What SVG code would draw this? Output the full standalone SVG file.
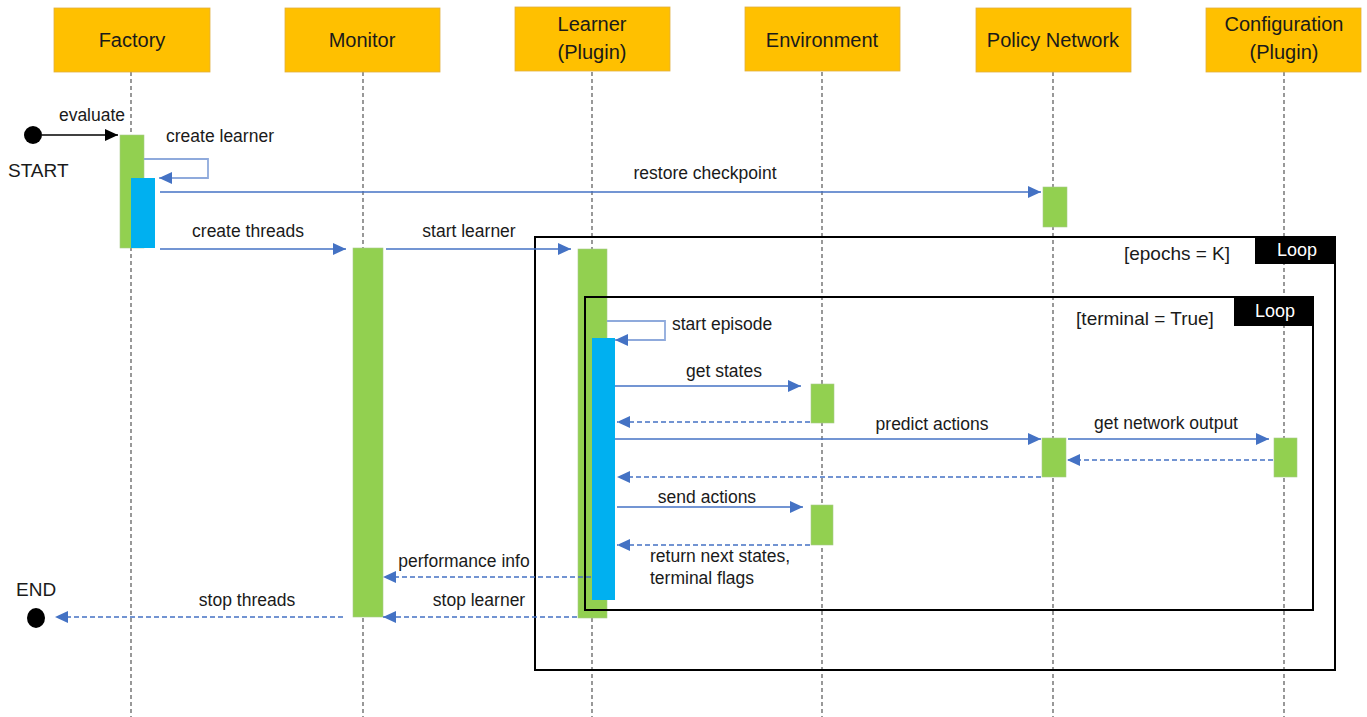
<svg xmlns="http://www.w3.org/2000/svg" width="1367" height="717" viewBox="0 0 1367 717">
<defs>
<style>
.hdr{fill:#FFC000;stroke:#E0B040;stroke-width:0.8}
.ht{font-family:"Liberation Sans",Arial,sans-serif;font-size:20px;fill:#1a1a1a;text-anchor:middle}
.lbl{font-family:"Liberation Sans",Arial,sans-serif;font-size:17.5px;fill:#1a1a1a}
.grd{font-size:19px}
.mid{text-anchor:middle}
.life{stroke:#555;stroke-width:1.2;stroke-dasharray:4 3;fill:none}
.g{fill:#92D050;stroke:#A9C98A;stroke-width:0.6}
.b{fill:#00B0F0}
.msg{stroke:#4472C4;stroke-width:1.5;fill:none;marker-end:url(#ah)}
.ret{stroke:#4472C4;stroke-width:1.5;fill:none;stroke-dasharray:5 3;marker-end:url(#ah)}
.self{stroke:#8FAADC;stroke-width:1.8;fill:none;marker-end:url(#ah)}
.frame{fill:none;stroke:#000;stroke-width:2}
.loopt{font-family:"Liberation Sans",Arial,sans-serif;font-size:18px;fill:#fff;text-anchor:middle}
</style>
<marker id="ah" markerUnits="userSpaceOnUse" markerWidth="14" markerHeight="12" refX="13" refY="6" orient="auto">
<path d="M0,0 L13,6 L0,12 Z" fill="#4472C4"/>
</marker>
<marker id="ahk" markerUnits="userSpaceOnUse" markerWidth="14" markerHeight="12" refX="13" refY="6" orient="auto">
<path d="M0,0 L13,6 L0,12 Z" fill="#000"/>
</marker>
</defs>
<rect width="1367" height="717" fill="#fff"/>

<g id="lifelines">
<line class="life" x1="131" y1="72" x2="131" y2="717"/>
<line class="life" x1="363" y1="72" x2="363" y2="717"/>
<line class="life" x1="592" y1="72" x2="592" y2="717"/>
<line class="life" x1="822" y1="72" x2="822" y2="717"/>
<line class="life" x1="1053" y1="72" x2="1053" y2="717"/>
<line class="life" x1="1284" y1="72" x2="1284" y2="717"/>
</g>

<g id="factory">
<rect class="hdr" x="54" y="8" width="156" height="64"/>
<text class="ht" x="132" y="47">Factory</text>
<rect class="g" x="120" y="135" width="24" height="113"/>
<rect class="b" x="131" y="178" width="24" height="70"/>
</g>
<g id="monitor">
<rect class="hdr" x="285" y="8" width="155" height="64"/>
<text class="ht" x="362" y="47">Monitor</text>
<rect class="g" x="353" y="248" width="30" height="369"/>
</g>
<g id="learner">
<rect class="hdr" x="515" y="7" width="155" height="64"/>
<text class="ht" x="592" y="31">Learner</text>
<text class="ht" x="592" y="59">(Plugin)</text>
<rect class="g" x="578" y="249" width="29" height="369"/>
<rect class="b" x="592" y="338" width="23" height="262"/>
</g>
<g id="environment">
<rect class="hdr" x="745" y="7" width="155" height="64"/>
<text class="ht" x="822" y="47">Environment</text>
<rect class="g" x="811" y="384" width="23" height="39"/>
<rect class="g" x="811" y="505" width="22" height="40"/>
</g>
<g id="policy-network">
<rect class="hdr" x="976" y="8" width="155" height="64"/>
<text class="ht" x="1053" y="47">Policy Network</text>
<rect class="g" x="1043" y="187" width="24" height="40"/>
<rect class="g" x="1042" y="438" width="24" height="39"/>
</g>
<g id="configuration">
<rect class="hdr" x="1206" y="8" width="155" height="64"/>
<text class="ht" x="1284" y="31">Configuration</text>
<text class="ht" x="1284" y="59">(Plugin)</text>
<rect class="g" x="1274" y="438" width="23" height="39"/>
</g>

<g id="start-end">
<circle cx="33" cy="135" r="9" fill="#000"/>
<text class="lbl" x="8" y="177" style="font-size:19px">START</text>
<ellipse cx="36" cy="618" rx="9" ry="10" fill="#000"/>
<text class="lbl" x="16" y="596" style="font-size:19px">END</text>
</g>

<g id="loops">
<rect class="frame" x="535" y="237" width="800" height="433"/>
<rect x="1255" y="237" width="80" height="27" fill="#000"/>
<text class="loopt" x="1297" y="256">Loop</text>
<text class="lbl grd mid" x="1177" y="260">[epochs = K]</text>
<rect class="frame" x="585" y="297" width="728" height="313"/>
<rect x="1234" y="297" width="80" height="29" fill="#000"/>
<text class="loopt" x="1275" y="317">Loop</text>
<text class="lbl grd mid" x="1145" y="325">[terminal = True]</text>
</g>

<g id="connectors">
<line x1="42" y1="135" x2="118" y2="135" stroke="#000" stroke-width="1.5" marker-end="url(#ahk)"/>
<text class="lbl mid" x="92" y="121">evaluate</text>
<polyline class="self" points="144,159 208,159 208,178 159,178"/>
<text class="lbl" x="166" y="142">create learner</text>
<line class="msg" x1="160" y1="192" x2="1041" y2="192"/>
<text class="lbl mid" x="705" y="179">restore checkpoint</text>
<line class="msg" x1="160" y1="249" x2="346" y2="249"/>
<text class="lbl mid" x="248" y="237">create threads</text>
<line class="msg" x1="386" y1="249" x2="571" y2="249"/>
<text class="lbl mid" x="469" y="237">start learner</text>
<polyline class="self" points="607,321 665,321 665,340 615,340"/>
<text class="lbl" x="672" y="330">start episode</text>
<line class="msg" x1="615" y1="386" x2="801" y2="386"/>
<text class="lbl mid" x="724" y="377">get states</text>
<line class="ret" x1="810" y1="422" x2="617" y2="422"/>
<line class="msg" x1="615" y1="439" x2="1041" y2="439"/>
<text class="lbl mid" x="932" y="430">predict actions</text>
<line class="msg" x1="1068" y1="439" x2="1269" y2="439"/>
<text class="lbl mid" x="1166" y="429">get network output</text>
<line class="ret" x1="1273" y1="460" x2="1067" y2="460"/>
<line class="ret" x1="1041" y1="477" x2="617" y2="477"/>
<line class="msg" x1="617" y1="507" x2="803" y2="507"/>
<text class="lbl mid" x="707" y="503">send actions</text>
<line class="ret" x1="810" y1="545" x2="617" y2="545"/>
<text class="lbl" x="650" y="562">return next states,</text>
<text class="lbl" x="650" y="584">terminal flags</text>
<line class="ret" x1="591" y1="577" x2="383" y2="577"/>
<text class="lbl mid" x="464" y="567">performance info</text>
<line class="ret" x1="577" y1="617" x2="383" y2="617"/>
<text class="lbl mid" x="479" y="606">stop learner</text>
<line class="ret" x1="343" y1="617" x2="55" y2="617"/>
<text class="lbl mid" x="247" y="606">stop threads</text>
</g>
</svg>
